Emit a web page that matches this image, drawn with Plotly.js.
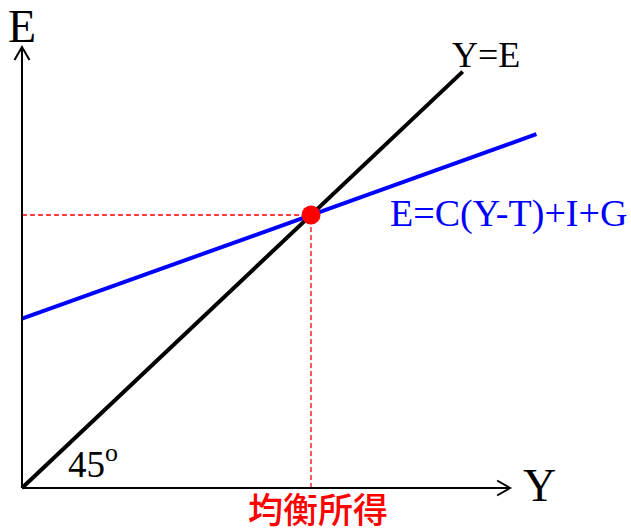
<!DOCTYPE html>
<html>
<head>
<meta charset="utf-8">
<script src="https://cdn.plot.ly/plotly-3.0.1.min.js"></script>
<style>html,body{margin:0;padding:0;background:#fff;}#chart{width:631px;height:531px;}</style>
</head>
<body>
<div id="chart"></div>
<script>
// Data (income Y, expenditure E)
const lineYeqE_x = [0, 152.5];
const lineYeqE_y = [0, 152.5];
const aeLine_x = [0, 178];
const aeLine_y = [62, 129.6];
const equilibrium_x = [100];
const equilibrium_y = [100];
const axisX_end = 168.9;
const axisY_end = 161.5;
const labels = {
  yAxis: "E",
  xAxis: "Y",
  line45: "Y=E",
  ae: "E=C(Y-T)+I+G",
  angle: "45<sup>o</sup>",
  eqIncome: "均衡所得"
};

const serif = "Liberation Serif, Times New Roman, serif";

const traces = [
  {x: [0, equilibrium_x[0]], y: [equilibrium_y[0], equilibrium_y[0]], mode: "lines",
   line: {color: "#ff0000", width: 1.3, dash: "5px,3px"}, hoverinfo: "skip"},
  {x: [equilibrium_x[0], equilibrium_x[0]], y: [0, equilibrium_y[0]], mode: "lines",
   line: {color: "#ff0000", width: 1.3, dash: "5px,3px"}, hoverinfo: "skip"},
  {x: lineYeqE_x, y: lineYeqE_y, mode: "lines", line: {color: "#000000", width: 4}},
  {x: aeLine_x, y: aeLine_y, mode: "lines", line: {color: "#0000ff", width: 4}},
  {x: equilibrium_x, y: equilibrium_y, mode: "markers", marker: {color: "#ff0000", size: 19}}
];

const shapes = [
  {type: "line", x0: 0, y0: 0, x1: axisX_end, y1: 0, line: {color: "#000", width: 2}},
  {type: "line", x0: 0, y0: 0, x1: 0, y1: axisY_end, line: {color: "#000", width: 2}},
  {type: "path", xsizemode: "pixel", ysizemode: "pixel", xanchor: axisX_end, yanchor: 0,
   path: "M-13,7.5 L0,0 L-13,-7.5", line: {color: "#000", width: 2}},
  {type: "path", xsizemode: "pixel", ysizemode: "pixel", xanchor: 0, yanchor: axisY_end,
   path: "M-7.5,-13 L0,0 L7.5,-13", line: {color: "#000", width: 2}}
];

const annotations = [
  {x: 0.17, y: 168.9, text: labels.yAxis, showarrow: false, font: {family: serif, size: 46, color: "#000"}},
  {x: 178.9, y: 1.1, text: labels.xAxis, showarrow: false, font: {family: serif, size: 46, color: "#000"}},
  {x: 160.6, y: 158.6, text: labels.line45, showarrow: false, font: {family: serif, size: 36, color: "#000"}},
  {x: 168.2, y: 100.7, text: labels.ae, showarrow: false, font: {family: serif, size: 38, color: "#0000ff"}},
  {x: 24.4, y: 9.6, text: labels.angle, showarrow: false, font: {family: serif, size: 37, color: "#000"}},
  {x: 102.4, y: -15.75, text: labels.eqIncome, showarrow: false, yanchor: "bottom", borderpad: 0,
   font: {family: "Liberation Sans, Noto Sans CJK TC, Noto Sans CJK SC, sans-serif", size: 35, weight: 500, color: "#ff0000"}}
];

const layout = {
  width: 631, height: 531,
  margin: {l: 0, r: 0, t: 0, b: 0},
  paper_bgcolor: "#fff", plot_bgcolor: "#fff",
  showlegend: false,
  xaxis: {range: [-7.61, 210.73], visible: false, fixedrange: true},
  yaxis: {range: [-15.75, 178.75], visible: false, fixedrange: true},
  shapes: shapes,
  annotations: annotations
};

Plotly.newPlot("chart", traces, layout, {staticPlot: true, displayModeBar: false});
</script>
</body>
</html>
